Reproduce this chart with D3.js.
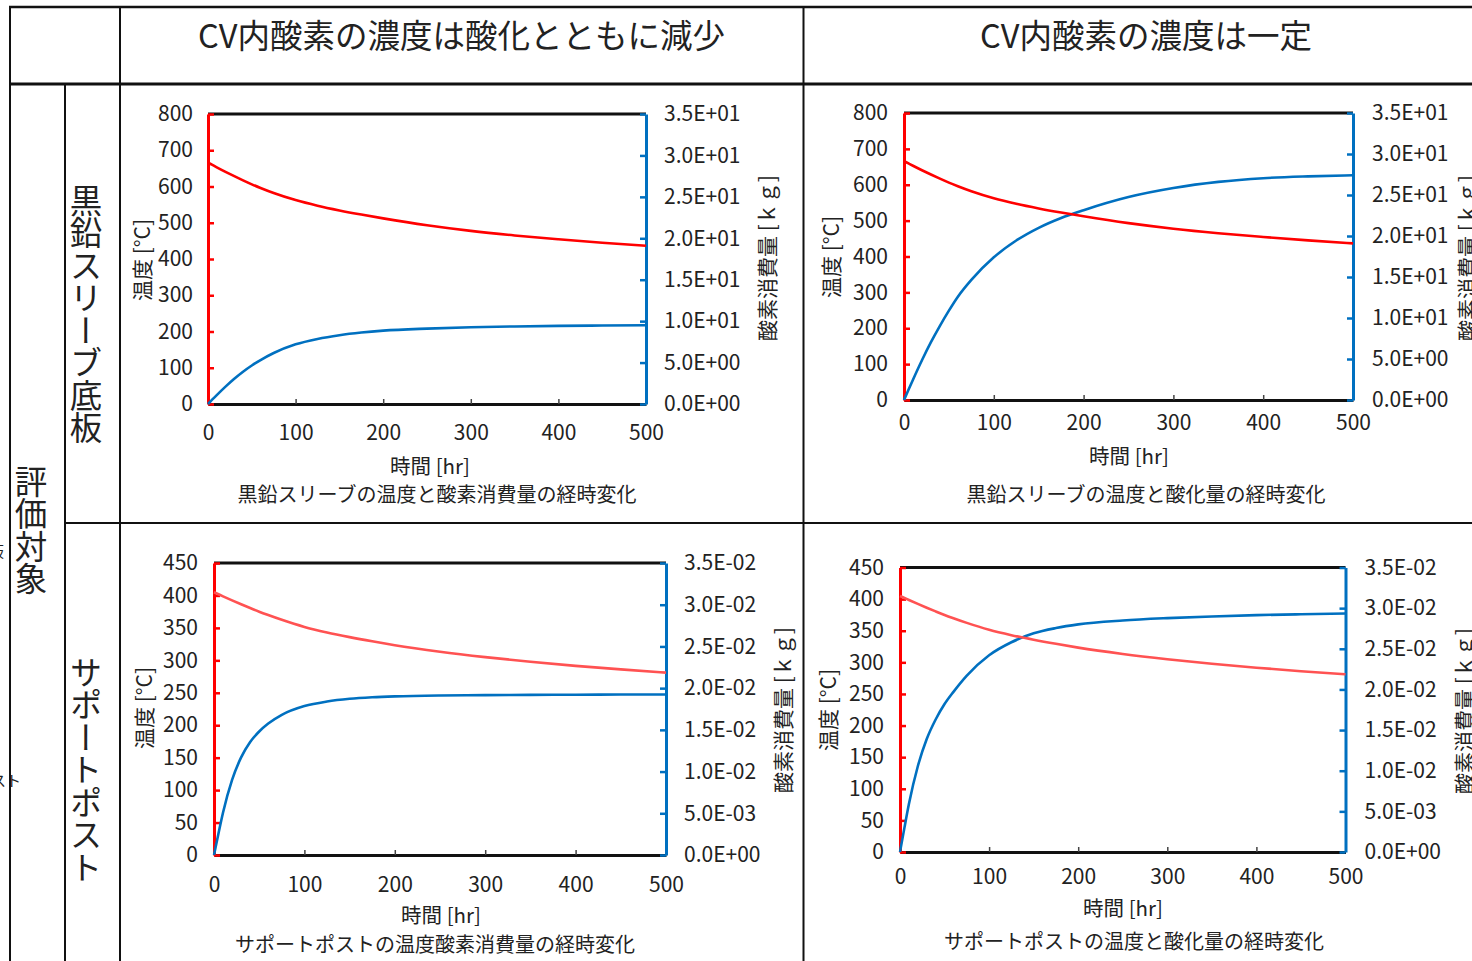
<!DOCTYPE html>
<html lang="ja">
<head>
<meta charset="utf-8">
<script src="https://cdn.jsdelivr.net/npm/d3@7"></script>
<style>
  html, body { margin: 0; padding: 0; background: #fff; }
  svg { display: block; font-family: "Noto Sans CJK JP", "Noto Sans", sans-serif; }
</style>
</head>
<body>
<svg id="chart" width="1472" height="961"></svg>
<script>
// ---- data -------------------------------------------------------------
const hours = [0, 5, 10, 20, 30, 40, 50, 60, 75, 100, 125, 150, 175, 200, 250, 300, 350, 400, 450, 500];

// graphite sleeve temperature [°C]
const sleeveTemp = [666, 659.5, 653, 640.5, 628.5, 617, 606, 596, 582, 562.5, 547, 534, 522.5, 512, 493, 477.5, 465, 454.5, 445, 436.5];
// graphite sleeve oxygen consumption [kg], O2 decreasing in CV
const sleeveO2Falling = [0, 0.55, 1.08, 2.1, 3.05, 3.9, 4.65, 5.3, 6.15, 7.2, 7.85, 8.3, 8.62, 8.85, 9.1, 9.26, 9.36, 9.43, 9.47, 9.5];
// graphite sleeve oxidation [kg], O2 constant in CV
const sleeveO2Constant = [0, 1.25, 2.48, 4.85, 7.05, 9.05, 10.9, 12.6, 14.65, 17.4, 19.45, 21.0, 22.2, 23.15, 24.75, 25.85, 26.6, 27.05, 27.27, 27.4];

// support post temperature [°C]
const postTemp = [405, 401.8, 398.6, 392.4, 386.4, 380.6, 375, 369.8, 362.4, 351.5, 343, 335.8, 329.3, 323.3, 313.3, 305, 297.8, 291.5, 286, 281];
// support post oxygen consumption [kg], O2 decreasing in CV
const postO2Falling = [0, 0.0026, 0.0051, 0.0090, 0.0117, 0.01355, 0.0148, 0.01575, 0.0168, 0.01785, 0.0184, 0.01872, 0.0189, 0.01901, 0.01912, 0.01916, 0.01919, 0.01921, 0.01923, 0.01924];
// support post oxidation [kg], O2 constant in CV
const postO2Constant = [0, 0.0030, 0.0059, 0.01055, 0.0139, 0.0163, 0.0182, 0.0197, 0.0217, 0.0242, 0.0258, 0.0269, 0.02755, 0.0280, 0.02848, 0.02877, 0.02898, 0.02914, 0.02925, 0.02934];

// tick values
const hourTicks = [0, 100, 200, 300, 400, 500];
const sleeveTempTicks = [0, 100, 200, 300, 400, 500, 600, 700, 800];
const postTempTicks = [0, 50, 100, 150, 200, 250, 300, 350, 400, 450];
const sleeveMassTicks = [0, 5, 10, 15, 20, 25, 30, 35];
const postMassTicks = [0, 0.005, 0.01, 0.015, 0.02, 0.025, 0.03, 0.035];

// table text
const columnHeads = ["CV内酸素の濃度は酸化とともに減少", "CV内酸素の濃度は一定"];
const rowHeads = ["黒鉛スリーブ底板", "サポートポスト"];
const groupHead = "評価対象";
const captions = [
  "黒鉛スリーブの温度と酸素消費量の経時変化",
  "黒鉛スリーブの温度と酸化量の経時変化",
  "サポートポストの温度酸素消費量の経時変化",
  "サポートポストの温度と酸化量の経時変化"
];

// ---- styles -----------------------------------------------------------
const RED = "#ff0000";
const RED_SOFT = "#ff5252";
const BLUE = "#0070c0";
const INK = "#222";

const svg = d3.select("#chart");
svg.append("rect").attr("width", 1472).attr("height", 961).attr("fill", "#fff");

// ---- table frame ------------------------------------------------------
const grid = svg.append("g").attr("stroke", "#111").attr("fill", "none");
const hLine = (x1, x2, y, w) => grid.append("line").attr("x1", x1).attr("x2", x2).attr("y1", y).attr("y2", y).attr("stroke-width", w);
const vLine = (x, y1, y2, w) => grid.append("line").attr("x1", x).attr("x2", x).attr("y1", y1).attr("y2", y2).attr("stroke-width", w);
hLine(9, 1472, 7, 2.5);
hLine(9, 1472, 84, 3);
hLine(65, 1472, 523, 2);
vLine(10, 6, 961, 2);
vLine(65, 84, 961, 2);
vLine(120, 6, 961, 2);
vLine(803.5, 6, 961, 2);

// header texts
svg.append("text").attr("x", 461.5).attr("y", 33).attr("text-anchor", "middle")
  .attr("dominant-baseline", "central").attr("font-size", 32.5).attr("fill", INK).text(columnHeads[0]);
svg.append("text").attr("x", 1146).attr("y", 33).attr("text-anchor", "middle")
  .attr("dominant-baseline", "central").attr("font-size", 32.5).attr("fill", INK).text(columnHeads[1]);

// vertical row headers
function verticalText(x, y, str, size) {
  svg.append("text").attr("x", x).attr("y", y)
    .attr("text-anchor", "middle")
    .style("writing-mode", "vertical-rl")
    .attr("font-size", size).attr("fill", INK).text(str);
}
verticalText(86, 314, rowHeads[0], 32.5);
verticalText(86, 770, rowHeads[1], 32.5);
verticalText(31, 530, groupHead, 32.5);

// clipped labels from the neighbouring column
svg.append("text").attr("x", 4).attr("y", 557).attr("text-anchor", "end")
  .attr("font-size", 15).attr("fill", INK).text(rowHeads[0]);
svg.append("text").attr("x", 21).attr("y", 786).attr("text-anchor", "end")
  .attr("font-size", 15).attr("fill", INK).text(rowHeads[1]);

// ---- exponent tick format like 3.5E+01 ---------------------------------
function sciFormat(v) {
  if (v === 0) return "0.0E+00";
  let e = Math.floor(Math.log10(Math.abs(v)) + 1e-9);
  let m = v / Math.pow(10, e);
  if (Math.round(m * 10) / 10 >= 10) { e += 1; m = v / Math.pow(10, e); }
  const sign = e < 0 ? "-" : "+";
  return m.toFixed(1) + "E" + sign + String(Math.abs(e)).padStart(2, "0");
}

// ---- panels -----------------------------------------------------------
const panels = [
  { x0: 208, x1: 646, yTop: 114, yBot: 404, temp: sleeveTemp, tempTicks: sleeveTempTicks, tempMax: 800,
    mass: sleeveO2Falling, massTicks: sleeveMassTicks, massMax: 35, red: RED,
    padL: 15, padR: 18, padB: 21, yTitle: [141, 260], rTitle: [766, 258], xTitle: [430, 465], cap: [437, 493], caption: captions[0] },
  { x0: 904, x1: 1353, yTop: 113, yBot: 400, temp: sleeveTemp, tempTicks: sleeveTempTicks, tempMax: 800,
    mass: sleeveO2Constant, massTicks: sleeveMassTicks, massMax: 35, red: RED,
    padL: 16, padR: 19, padB: 15, yTitle: [830, 257], rTitle: [1466, 258], xTitle: [1129, 455], cap: [1146, 493], caption: captions[1] },
  { x0: 214, x1: 666, yTop: 563, yBot: 855, temp: postTemp, tempTicks: postTempTicks, tempMax: 450,
    mass: postO2Falling, massTicks: postMassTicks, massMax: 0.035, red: RED_SOFT,
    padL: 16, padR: 18, padB: 22, yTitle: [143, 708], rTitle: [782, 710], xTitle: [441, 914], cap: [435, 943.5], caption: captions[2] },
  { x0: 900, x1: 1345.5, yTop: 567.5, yBot: 852, temp: postTemp, tempTicks: postTempTicks, tempMax: 450,
    mass: postO2Constant, massTicks: postMassTicks, massMax: 0.035, red: RED_SOFT,
    padL: 16, padR: 19, padB: 17, yTitle: [827, 710], rTitle: [1463, 711], xTitle: [1123, 907], cap: [1134, 940], caption: captions[3] }
];

panels.forEach(p => {
  const g = svg.append("g");
  const x = d3.scaleLinear().domain([0, 500]).range([p.x0, p.x1]);
  const yT = d3.scaleLinear().domain([0, p.tempMax]).range([p.yBot, p.yTop]);
  const yM = d3.scaleLinear().domain([0, p.massMax]).range([p.yBot, p.yTop]);

  // top frame line
  g.append("line").attr("x1", p.x0).attr("x2", p.x1).attr("y1", p.yTop).attr("y2", p.yTop)
    .attr("stroke", "#111").attr("stroke-width", 3);

  // time axis
  const ax = g.append("g").attr("transform", `translate(0,${p.yBot})`)
    .call(d3.axisBottom(x).tickValues(hourTicks).tickSize(-5).tickSizeOuter(0).tickPadding(p.padB));
  ax.select(".domain").attr("stroke", "#111").attr("stroke-width", 3);
  ax.selectAll(".tick line").attr("stroke", "#444").attr("stroke-width", 1.5);
  ax.selectAll(".tick text").attr("font-size", 21).attr("fill", INK);

  // temperature axis
  const al = g.append("g").attr("transform", `translate(${p.x0},0)`)
    .call(d3.axisLeft(yT).tickValues(p.tempTicks).tickSize(-6).tickSizeOuter(0).tickPadding(p.padL));
  al.select(".domain").attr("stroke", RED).attr("stroke-width", 3);
  al.selectAll(".tick line").attr("stroke", RED).attr("stroke-width", 2.5);
  al.selectAll(".tick text").attr("font-size", 21).attr("fill", INK);

  // mass axis
  const ar = g.append("g").attr("transform", `translate(${p.x1},0)`)
    .call(d3.axisRight(yM).tickValues(p.massTicks).tickSize(-6).tickSizeOuter(0).tickPadding(p.padR).tickFormat(sciFormat));
  ar.select(".domain").attr("stroke", BLUE).attr("stroke-width", 3);
  ar.selectAll(".tick line").attr("stroke", BLUE).attr("stroke-width", 2.5);
  ar.selectAll(".tick text").attr("font-size", 21).attr("fill", INK);
  [ax, al, ar].forEach(a => a.attr("font-family", null).attr("font-size", null));

  // series
  const rows = hours.map((h, i) => ({ h, t: p.temp[i], m: p.mass[i] }));
  g.append("path").datum(rows)
    .attr("fill", "none").attr("stroke", BLUE).attr("stroke-width", 2.6)
    .attr("d", d3.line().x(d => x(d.h)).y(d => yM(d.m)).curve(d3.curveMonotoneX));
  g.append("path").datum(rows)
    .attr("fill", "none").attr("stroke", p.red).attr("stroke-width", 2.6)
    .attr("d", d3.line().x(d => x(d.h)).y(d => yT(d.t)).curve(d3.curveMonotoneX));

  // titles
  g.append("text").attr("transform", `translate(${p.yTitle[0]},${p.yTitle[1]}) rotate(-90)`)
    .attr("text-anchor", "middle").attr("dominant-baseline", "central")
    .attr("font-size", 21).attr("fill", INK).text("温度 [°C]");
  g.append("text").attr("transform", `translate(${p.rTitle[0]},${p.rTitle[1]}) rotate(-90)`)
    .attr("text-anchor", "middle").attr("dominant-baseline", "central")
    .attr("font-size", 21).attr("fill", INK).text("酸素消費量 [ｋｇ]");
  g.append("text").attr("x", p.xTitle[0]).attr("y", p.xTitle[1])
    .attr("text-anchor", "middle").attr("dominant-baseline", "central")
    .attr("font-size", 20.5).attr("fill", INK).text("時間 [hr]");
  g.append("text").attr("x", p.cap[0]).attr("y", p.cap[1])
    .attr("text-anchor", "middle").attr("dominant-baseline", "central")
    .attr("font-size", 20).attr("fill", INK).text(p.caption);
});
</script>
</body>
</html>
